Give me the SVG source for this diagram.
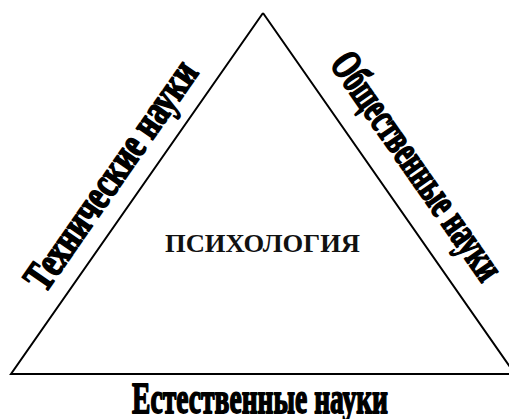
<svg xmlns="http://www.w3.org/2000/svg" width="509" height="419" viewBox="0 0 509 419">
  <style>
    .side { font-family: "Liberation Serif", "Times New Roman", serif; font-weight: bold; font-size: 43px; fill: #000; stroke: #000; stroke-width: 1.8px; stroke-linejoin: round; }
    .bottom { font-size: 45px; }
    .center { font-family: "Liberation Serif", "Times New Roman", serif; font-weight: bold; font-size: 26px; fill: #111; }
    .edge { fill: none; stroke: #000; stroke-width: 2; }
  </style>
  <rect width="509" height="419" fill="#fff"/>
  <g id="connectors">
    <path class="edge" d="M263 13 L11 374 L520 374 M263 13 L515 374"/>
  </g>
  <g id="node-left">
    <text class="side" x="0" y="0" transform="translate(45 294) rotate(-55.1)" textLength="270" lengthAdjust="spacingAndGlyphs">Технические науки</text>
  </g>
  <g id="node-right">
    <text class="side" x="0" y="0" transform="translate(329 64) rotate(55.1)" textLength="268" lengthAdjust="spacingAndGlyphs">Общественные науки</text>
  </g>
  <g id="node-bottom">
    <text class="side bottom" x="132" y="413" textLength="256" lengthAdjust="spacingAndGlyphs">Естественные науки</text>
  </g>
  <g id="node-center">
    <text class="center" x="165" y="252" textLength="195" lengthAdjust="spacingAndGlyphs">ПСИХОЛОГИЯ</text>
  </g>
</svg>
